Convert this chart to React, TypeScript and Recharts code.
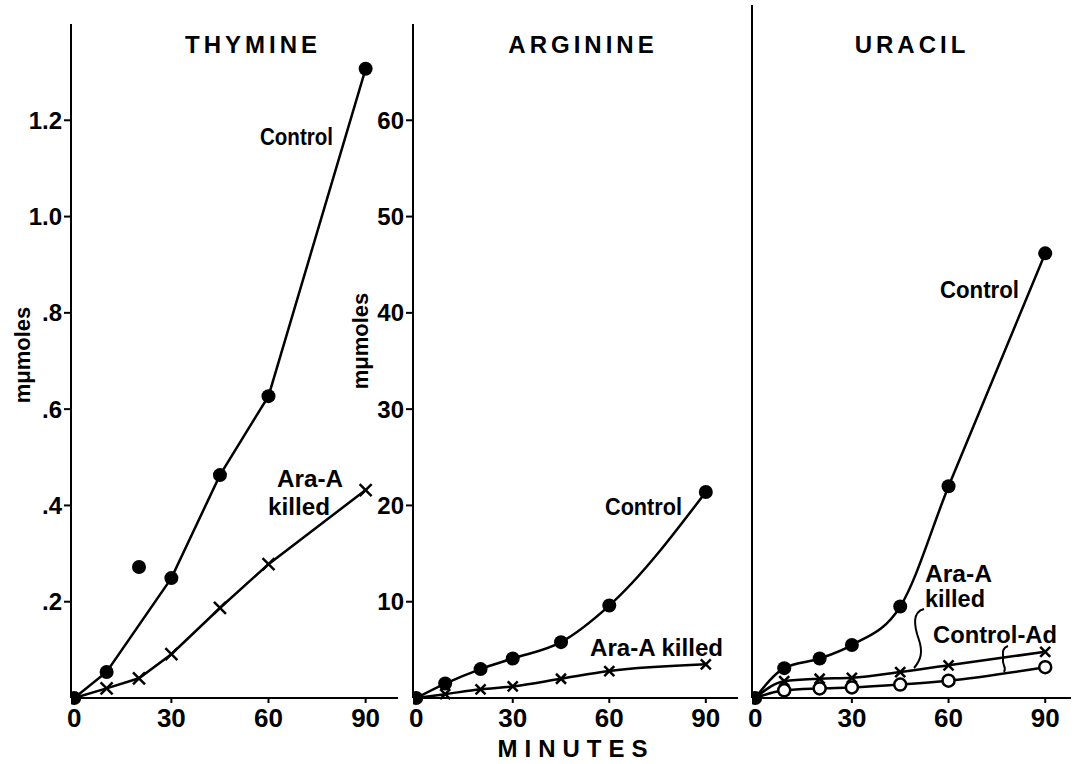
import React from 'react';
import { LineChart, Line, XAxis, YAxis } from 'recharts';

// values (mμmoles vs minutes)
const thymineMinutes = [0, 10, 20, 30, 45, 60, 90];
const thymineControl = [0, 0.054, null, 0.249, 0.463, 0.627, 1.307];
const thymineControlStray = [null, null, 0.272, null, null, null, null];
const thymineAraA = [0, 0.02, 0.041, 0.091, 0.187, 0.278, 0.432];

const arginineMinutes = [0, 9, 20, 30, 45, 60, 90];
const arginineControl = [0, 1.5, 3.0, 4.1, 5.8, 9.6, 21.4];
const arginineAraA = [0, 0.4, 0.9, 1.2, 2.0, 2.8, 3.5];

const uracilMinutes = [0, 9, 20, 30, 45, 60, 90];
const uracilControl = [0, 3.1, 4.1, 5.5, 9.5, 22.0, 46.2];
const uracilAraA = [0, 1.75, 2.0, 2.1, 2.7, 3.4, 4.8];
const uracilControlAd = [0, 0.8, 1.0, 1.1, 1.4, 1.8, 3.2];

const minuteTicks = [0, 30, 60, 90];
const thymineTicks = [0.2, 0.4, 0.6, 0.8, 1.0, 1.2];
const thymineTickLabels = ['.2', '.4', '.6', '.8', '1.0', '1.2'];
const arginineTicks = [10, 20, 30, 40, 50, 60];

const thymineData = thymineMinutes.map((m, i) => ({
  min: m,
  control: thymineControl[i],
  stray: thymineControlStray[i],
  araA: thymineAraA[i],
}));
const arginineData = arginineMinutes.map((m, i) => ({
  min: m,
  control: arginineControl[i],
  araA: arginineAraA[i],
}));
const uracilData = uracilMinutes.map((m, i) => ({
  min: m,
  control: uracilControl[i],
  araA: uracilAraA[i],
  controlAd: uracilControlAd[i],
}));

const FONT = '"Liberation Sans", Arial, sans-serif';
const INK = '#000';

const FilledDot = (p: any) =>
  p.cx == null || p.cy == null ? (
    <g key={p.key} />
  ) : (
    <circle key={p.key} cx={p.cx} cy={p.cy} r={7} fill={INK} />
  );

const makeCross = (s: number) => (p: any) => {
  if (p.cx == null || p.cy == null || p.index === 0) return <g key={p.key} />;
  return (
    <g key={p.key} stroke={INK} strokeWidth={2.5}>
      <line x1={p.cx - s} y1={p.cy - s} x2={p.cx + s} y2={p.cy + s} />
      <line x1={p.cx - s} y1={p.cy + s} x2={p.cx + s} y2={p.cy - s} />
    </g>
  );
};

const OpenDot = (p: any) => {
  if (p.cx == null || p.cy == null || p.index === 0) return <g key={p.key} />;
  return <circle key={p.key} cx={p.cx} cy={p.cy} r={6} fill="#fff" stroke={INK} strokeWidth={2.5} />;
};

const xTick = { fontFamily: FONT, fontWeight: 700, fontSize: 26, fill: INK };
const yTick = { fontFamily: FONT, fontWeight: 700, fontSize: 24, fill: INK };

const CommonX = (domainMax: number) => (
  <XAxis
    type="number"
    dataKey="min"
    domain={[-1, domainMax]}
    ticks={minuteTicks}
    allowDataOverflow
    height={66}
    axisLine={{ stroke: INK, strokeWidth: 2 }}
    tickLine={{ stroke: INK, strokeWidth: 2 }}
    tickSize={5}
    tickMargin={6}
    tick={xTick}
  />
);

const lineProps = {
  type: 'monotone' as const,
  stroke: INK,
  strokeWidth: 2.5,
  isAnimationActive: false,
};

const Annot = ({ x, y, w, children }: { x: number; y: number; w: number; children: string }) => (
  <text
    x={x}
    y={y}
    textLength={w}
    lengthAdjust="spacingAndGlyphs"
    fontFamily={FONT}
    fontWeight={700}
    fontSize={23}
    fill={INK}
  >
    {children}
  </text>
);

export default function App() {
  return (
    <div style={{ position: 'absolute', left: 0, top: 0, width: 1074, height: 764, background: '#fff' }}>
      {/* THYMINE */}
      <div style={{ position: 'absolute', left: 0, top: 0 }}>
        <LineChart width={400} height={764} data={thymineData} margin={{ top: 24, right: 2, bottom: 0, left: 0 }}>
          {CommonX(100)}
          <YAxis
            type="number"
            domain={[0, 1.4]}
            ticks={thymineTicks}
            width={71}
            axisLine={{ stroke: INK, strokeWidth: 2 }}
            tickLine={{ stroke: INK, strokeWidth: 2 }}
            tickSize={7}
            tickMargin={2}
            tick={yTick}
            tickFormatter={(v: number) => thymineTickLabels[thymineTicks.indexOf(v)]}
          />
          <Line {...lineProps} type="linear" dataKey="araA" dot={makeCross(6)} />
          <Line {...lineProps} type="linear" dataKey="control" connectNulls dot={FilledDot} />
          <Line {...lineProps} dataKey="stray" stroke="none" dot={FilledDot} />
        </LineChart>
      </div>

      {/* ARGININE */}
      <div style={{ position: 'absolute', left: 330, top: 0 }}>
        <LineChart width={408} height={764} data={arginineData} margin={{ top: 24, right: 0, bottom: 0, left: 0 }}>
          {CommonX(100)}
          <YAxis
            type="number"
            domain={[0, 70]}
            ticks={arginineTicks}
            width={83}
            axisLine={{ stroke: INK, strokeWidth: 2 }}
            tickLine={{ stroke: INK, strokeWidth: 2 }}
            tickSize={7}
            tickMargin={2}
            tick={yTick}
          />
          <Line {...lineProps} dataKey="araA" dot={makeCross(5)} />
          <Line {...lineProps} dataKey="control" dot={FilledDot} />
        </LineChart>
      </div>

      {/* URACIL */}
      <div style={{ position: 'absolute', left: 700, top: 0 }}>
        <LineChart width={371} height={764} data={uracilData} margin={{ top: 5, right: 0, bottom: 0, left: 0 }}>
          {CommonX(98)}
          <YAxis
            type="number"
            domain={[0, 72]}
            width={52}
            axisLine={{ stroke: INK, strokeWidth: 2 }}
            tick={false}
            tickLine={false}
          />
          <Line {...lineProps} dataKey="controlAd" dot={OpenDot} />
          <Line {...lineProps} dataKey="araA" dot={makeCross(5)} />
          <Line {...lineProps} dataKey="control" dot={FilledDot} />
        </LineChart>
      </div>

      {/* titles and labels */}
      <svg width={1074} height={764} style={{ position: 'absolute', left: 0, top: 0, pointerEvents: 'none' }}>
        <g fontFamily={FONT} fontWeight={700} fill={INK}>
          <text x={253} y={53} fontSize={24} textAnchor="middle" style={{ letterSpacing: 4 }}>THYMINE</text>
          <text x={583} y={53} fontSize={24} textAnchor="middle" style={{ letterSpacing: 4 }}>ARGININE</text>
          <text x={912} y={53} fontSize={24} textAnchor="middle" style={{ letterSpacing: 4 }}>URACIL</text>
          <text x={576} y={757} fontSize={24} textAnchor="middle" style={{ letterSpacing: 7 }}>MINUTES</text>
          <text x={0} y={0} fontSize={22} textAnchor="middle" transform="translate(30 355) rotate(-90)">mμmoles</text>
          <text x={0} y={0} fontSize={22} textAnchor="middle" transform="translate(368 341) rotate(-90)">mμmoles</text>
        </g>
        <Annot x={260} y={145} w={73}>Control</Annot>
        <Annot x={277} y={487} w={66}>Ara-A</Annot>
        <Annot x={268} y={515} w={62}>killed</Annot>
        <Annot x={605} y={515} w={77}>Control</Annot>
        <Annot x={590} y={656} w={133}>Ara-A killed</Annot>
        <Annot x={940} y={298} w={79}>Control</Annot>
        <Annot x={925} y={582} w={67}>Ara-A</Annot>
        <Annot x={925} y={607} w={60}>killed</Annot>
        <Annot x={933} y={643} w={124}>Control-Ad</Annot>
        <g fill="none" stroke={INK} strokeWidth={2}>
          <path d="M 924 609 C 912 612, 914 626, 919 640 C 923 652, 921 660, 914 668" />
          <path d="M 1008 646 C 1000 649, 1004 656, 1003 660 C 1002 665, 1007 667, 1004 672" />
        </g>
      </svg>
    </div>
  );
}
